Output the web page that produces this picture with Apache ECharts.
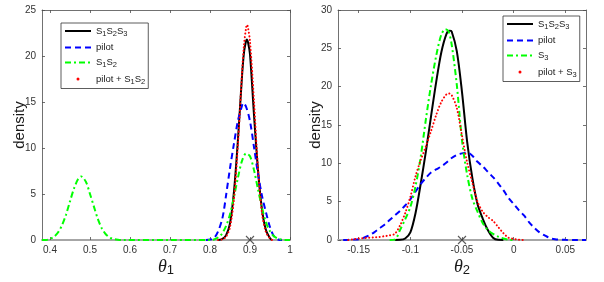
<!DOCTYPE html>
<html><head><meta charset="utf-8">
<script src="https://cdn.jsdelivr.net/npm/echarts@6/dist/echarts.min.js"></script>
<style>html,body{margin:0;padding:0;background:#fff}#c{width:604px;height:282px}</style>
</head><body><div id="c"></div>
<script>
// ---------- tick labels / categories ----------
const leftXTicks = [0.4, 0.5, 0.6, 0.7, 0.8, 0.9, 1];
const rightXTicks = [-0.15, -0.1, -0.05, 0, 0.05];
const leftNames = ['S1S2S3', 'pilot', 'S1S2', 'pilot + S1S2'];
const rightNames = ['S1S2S3', 'pilot', 'S3', 'pilot + S3'];
const leftTrue = [[0.9, 0]];
const rightTrue = [[-0.05, 0]];

// ---------- left panel (theta_1) densities ----------
const leftS123 = [[0.82,0],[0.83,0.1],[0.84,0.5],[0.85,1.8],[0.86,5.3],[0.87,11.0],[0.88,17.8],[0.885,20.4],[0.89,21.6],[0.892,21.8],[0.895,21.5],[0.90,20.2],[0.91,13.6],[0.92,7.6],[0.93,3.3],[0.94,1.05],[0.95,0.2],[0.955,0]];
const leftPilot = [[0.79,0],[0.80,0.05],[0.81,0.2],[0.82,0.9],[0.83,2.2],[0.835,3.3],[0.84,4.8],[0.85,7.8],[0.86,10.5],[0.87,13.0],[0.88,14.6],[0.882,14.9],[0.89,14.5],[0.90,12.9],[0.91,10.1],[0.92,7.2],[0.93,4.8],[0.94,3.0],[0.95,1.4],[0.96,0.4],[0.97,0.05],[0.98,0]];
const leftS12 = [[0.38,0],[0.39,0],[0.40,0.14],[0.41,0.36],[0.42,0.81],[0.43,1.6],[0.44,2.75],[0.45,4.2],[0.46,5.6],[0.47,6.6],[0.478,6.9],[0.49,6.3],[0.50,5.0],[0.51,3.6],[0.52,2.24],[0.53,1.23],[0.54,0.6],[0.55,0.25],[0.56,0.1],[0.57,0.03],[0.58,0],[0.70,0],[0.80,0],[0.81,0.05],[0.82,0.27],[0.83,0.68],[0.84,1.5],[0.85,2.8],[0.86,4.7],[0.87,6.8],[0.88,8.6],[0.89,9.4],[0.90,9.1],[0.91,7.6],[0.92,5.5],[0.93,3.5],[0.94,1.9],[0.95,0.95],[0.96,0.4],[0.97,0.15],[0.98,0.04],[0.99,0],[1.0,0]];
const leftPilotS12 = [[0.82,0],[0.83,0.06],[0.84,0.34],[0.85,1.4],[0.86,4.5],[0.87,10.5],[0.88,18.1],[0.885,21.2],[0.89,23.0],[0.8925,23.4],[0.895,23.1],[0.90,21.6],[0.91,15.1],[0.92,7.8],[0.93,2.9],[0.94,0.83],[0.95,0.17],[0.955,0]];

// ---------- right panel (theta_2) densities ----------
const rightS123 = [[-0.115,0],[-0.11,0.02],[-0.105,0.2],[-0.10,1.0],[-0.095,3.5],[-0.09,7.3],[-0.085,11.5],[-0.08,16.1],[-0.075,20.6],[-0.07,24.5],[-0.065,26.9],[-0.062,27.3],[-0.06,27.2],[-0.055,24.6],[-0.05,19.3],[-0.045,12.8],[-0.04,8.1],[-0.035,4.7],[-0.03,2.8],[-0.025,1.3],[-0.02,0.3],[-0.015,0.02],[-0.01,0]];
const rightPilot = [[-0.165,0],[-0.16,0.02],[-0.155,0.05],[-0.15,0.1],[-0.145,0.3],[-0.14,0.6],[-0.135,1.0],[-0.13,1.5],[-0.125,2.0],[-0.12,2.6],[-0.115,3.2],[-0.11,3.8],[-0.105,4.5],[-0.10,5.3],[-0.095,6.3],[-0.09,7.3],[-0.085,8.1],[-0.08,8.8],[-0.075,9.2],[-0.07,9.6],[-0.065,10.1],[-0.06,10.7],[-0.055,11.1],[-0.05,11.3],[-0.045,11.4],[-0.04,11.0],[-0.035,10.2],[-0.03,9.6],[-0.025,8.9],[-0.02,8.2],[-0.015,7.4],[-0.01,6.5],[-0.005,5.5],[0,4.7],[0.005,3.9],[0.01,3.2],[0.015,2.3],[0.02,1.6],[0.025,1.0],[0.03,0.6],[0.035,0.25],[0.04,0.1],[0.045,0.05],[0.05,0.02],[0.06,0.01],[0.07,0]];
const rightS3 = [[-0.12,0],[-0.115,0.05],[-0.11,1.3],[-0.105,2.7],[-0.10,4.3],[-0.095,7.0],[-0.09,10.8],[-0.085,15.7],[-0.08,20.2],[-0.075,24.0],[-0.07,26.8],[-0.066,27.5],[-0.063,27.2],[-0.06,25.5],[-0.055,20.2],[-0.05,13.0],[-0.045,8.5],[-0.04,5.4],[-0.035,3.7],[-0.03,2.2],[-0.025,1.3],[-0.02,0.8],[-0.015,0.45],[-0.01,0.2],[-0.005,0.05],[0,0]];
const rightPilotS3 = [[-0.16,0],[-0.155,0.1],[-0.15,0.2],[-0.145,0.25],[-0.14,0.3],[-0.135,0.35],[-0.13,0.4],[-0.125,0.5],[-0.12,0.6],[-0.115,0.8],[-0.11,1.9],[-0.105,3.5],[-0.10,5.6],[-0.095,8.3],[-0.09,10.4],[-0.085,12.2],[-0.08,14.2],[-0.075,16.3],[-0.07,18.0],[-0.065,19.0],[-0.0625,19.1],[-0.06,18.9],[-0.055,17.2],[-0.05,13.6],[-0.045,10.1],[-0.04,7.5],[-0.035,5.0],[-0.03,3.7],[-0.025,3.0],[-0.02,2.5],[-0.015,1.7],[-0.01,0.9],[-0.005,0.3],[0,0.15],[0.005,0.05],[0.01,0]];

// ---------- styling ----------
const lineStyles = [
  {color:'#000000', width:2, type:'solid'},
  {color:'#0000ff', width:2, type:[6,4]},
  {color:'#00ff00', width:2, type:[6,3,2,3]},
  {color:'#ff0000', width:2, type:[0.1,3.4], cap:'round'}
];
const boxColor = '#4d4d4d';
const fontSans = 'Liberation Sans, Arial, sans-serif';

function toRich(name){
  return name.replace(/([^\d]+)|(\d)/g, function(m, t, d){ return t ? '{n|' + t + '}' : '{s|' + d + '}'; });
}
const legendRich = {
  n:{fontSize:9.5, fontFamily:fontSans, color:'#1a1a1a', lineHeight:13, verticalAlign:'middle'},
  s:{fontSize:7.5, fontFamily:fontSans, color:'#1a1a1a', lineHeight:7, verticalAlign:'bottom'}
};
const nameRich = {
  t:{fontSize:18, fontFamily:'Liberation Serif, serif', fontStyle:'italic', color:'#1a1a1a', lineHeight:20, verticalAlign:'middle'},
  u:{fontSize:13, fontFamily:fontSans, color:'#1a1a1a', lineHeight:11, verticalAlign:'bottom'}
};

function xAxes(gridIndex, min, max, ticks, sub){
  const common = {type:'value', gridIndex, min, max, splitLine:{show:false}};
  return [
    Object.assign({}, common, {
      position:'bottom',
      axisLine:{show:true, onZero:false, lineStyle:{color:'#a6a6a6', width:2}},
      axisTick:{show:true, inside:true, length:3, customValues:ticks, lineStyle:{color:boxColor, width:0.8}},
      axisLabel:{show:true, customValues:ticks, margin:5, fontSize:10, fontFamily:fontSans, color:'#333',
        formatter:function(v){ return String(v); }},
      name:'{t|θ}{u|' + sub + '}', nameLocation:'middle', nameGap:17, nameMoveOverlap:false,
      nameTextStyle:{rich:nameRich}
    }),
    Object.assign({}, common, {
      position:'top',
      axisLine:{show:true, onZero:false, lineStyle:{color:boxColor, width:0.8}},
      axisTick:{show:true, inside:true, length:3, customValues:ticks, lineStyle:{color:boxColor, width:0.8}},
      axisLabel:{show:false, customValues:ticks}
    })
  ];
}
function yAxes(gridIndex, max){
  const common = {type:'value', gridIndex, min:0, max, interval:5, splitLine:{show:false}};
  return [
    Object.assign({}, common, {
      position:'left',
      axisLine:{show:true, onZero:false, lineStyle:{color:boxColor, width:0.8}},
      axisTick:{show:true, inside:true, length:3, lineStyle:{color:boxColor, width:0.8}},
      axisLabel:{show:true, margin:6, fontSize:10, fontFamily:fontSans, color:'#333'},
      name:'density', nameLocation:'middle', nameGap:15, nameMoveOverlap:false,
      nameTextStyle:{fontSize:15, fontFamily:fontSans, color:'#1a1a1a'}
    }),
    Object.assign({}, common, {
      position:'right',
      axisLine:{show:true, onZero:false, lineStyle:{color:boxColor, width:0.8}},
      axisTick:{show:true, inside:true, length:3, lineStyle:{color:boxColor, width:0.8}},
      axisLabel:{show:false}
    })
  ];
}
function lineSeries(name, data, st, axisIndex){
  return {
    type:'line', name, data, xAxisIndex:axisIndex, yAxisIndex:axisIndex,
    showSymbol:false, symbol:'none', smooth:0.3, clip:false, animation:false,
    lineStyle:Object.assign({}, st)
  };
}
function trueMarker(data, axisIndex){
  return {
    type:'scatter', data, xAxisIndex:axisIndex, yAxisIndex:axisIndex, clip:false, z:10,
    symbol:'path://M0,0L10,10M10,0L0,10', symbolSize:8, animation:false, silent:true,
    itemStyle:{color:'rgba(0,0,0,0)', borderColor:'#333', borderWidth:1.1}
  };
}
function legendFor(names, left, top){
  return {
    orient:'vertical', left, top, itemWidth:26, itemHeight:3, itemGap:5,
    padding:[3,3,3,3], borderColor:'#333', borderWidth:0.8, backgroundColor:'#fff',
    selectedMode:false, itemStyle:{opacity:0},
    data:names.map(function(n, i){ return i === 3 ? {name:n, icon:'circle', itemStyle:{opacity:1, color:'#ff0000'}} : {name:n}; }),
    formatter:toRich,
    textStyle:{rich:legendRich}
  };
}

const leftSeriesData = [leftS123, leftPilot, leftS12, leftPilotS12];
const rightSeriesData = [rightS123, rightPilot, rightS3, rightPilotS3];

const option = {
  animation:false,
  backgroundColor:'#fff',
  grid:[
    {left:42, top:10, width:248, height:230},
    {left:338, top:10, width:248, height:230}
  ],
  xAxis:[].concat(xAxes(0, 0.38, 1, leftXTicks, '1'), xAxes(1, -0.17, 0.07, rightXTicks, '2')),
  yAxis:[].concat(yAxes(0, 25), yAxes(1, 30)),
  legend:[legendFor(leftNames, 61, 23), legendFor(rightNames, 503, 16)],
  series:[].concat(
    leftSeriesData.map(function(d, i){ return lineSeries(leftNames[i], d, lineStyles[i], 0); }),
    [trueMarker(leftTrue, 0)],
    rightSeriesData.map(function(d, i){ return lineSeries(rightNames[i], d, lineStyles[i], 2); }),
    [trueMarker(rightTrue, 2)]
  )
};
const chart = echarts.init(document.getElementById('c'), null, {renderer:'canvas'});
chart.setOption(option);
</script></body></html>
